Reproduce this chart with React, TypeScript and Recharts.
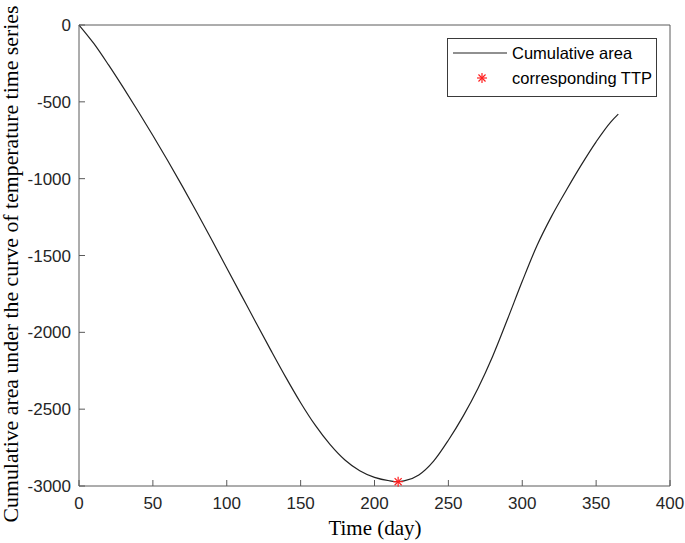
import React from 'react';
import { ComposedChart, Line, Scatter, XAxis, YAxis, Legend, Label } from 'recharts';

// day of year and cumulative area
const days = [0, 10, 20, 30, 40, 50, 60, 70, 80, 90, 100, 110, 120, 130, 140, 150, 160, 170, 180, 190, 200, 210, 216, 220, 230, 240, 250, 260, 270, 280, 290, 300, 310, 320, 330, 340, 350, 360, 365];
const cumulativeArea = [0, -120, -260, -408, -561, -719, -882, -1050, -1223, -1401, -1581, -1761, -1941, -2119, -2293, -2458, -2606, -2731, -2831, -2901, -2944, -2966, -2972, -2967, -2928, -2838, -2702, -2545, -2365, -2155, -1915, -1668, -1435, -1242, -1072, -910, -760, -630, -580];

const ttpDay = [216];
const ttpValue = [-2972];

const xTicks = [0, 50, 100, 150, 200, 250, 300, 350, 400];
const yTicks = [0, -500, -1000, -1500, -2000, -2500, -3000];

const curveData = days.map((d, i) => ({ day: d, area: cumulativeArea[i] }));
const ttpData = ttpDay.map((d, i) => ({ day: d, area: ttpValue[i] }));

const AXIS_COLOR = '#5a5a5a';
const TICK_FONT = { fontFamily: '"Liberation Sans", Arial, sans-serif', fontSize: 17, fill: '#262626' };

const Star = ({ cx, cy, r = 5, color = '#ff2020' }: any) => {
  const d = r * 0.7071;
  return (
    <g stroke={color} strokeWidth={1.2}>
      <line x1={cx - r} y1={cy} x2={cx + r} y2={cy} />
      <line x1={cx} y1={cy - r} x2={cx} y2={cy + r} />
      <line x1={cx - d} y1={cy - d} x2={cx + d} y2={cy + d} />
      <line x1={cx - d} y1={cy + d} x2={cx + d} y2={cy - d} />
    </g>
  );
};

const renderLegend = () => (
  <svg width={210} height={59} style={{ display: 'block' }}>
    <rect x={0.5} y={0.5} width={209} height={58} fill="#fff" stroke="#3a3a3a" strokeWidth={1} />
    <line x1={6} y1={15} x2={60} y2={15} stroke="#222" strokeWidth={1.2} />
    <text x={65} y={21} fontFamily='"Liberation Sans", Arial, sans-serif' fontSize={16.5} fill="#000">Cumulative area</text>
    <Star cx={35} cy={40} r={5} />
    <text x={65} y={46} fontFamily='"Liberation Sans", Arial, sans-serif' fontSize={16.5} fill="#000">corresponding TTP</text>
  </svg>
);

const YTitle = () => (
  <text
    x={18}
    y={264}
    transform="rotate(-90, 18, 264)"
    textAnchor="middle"
    fontFamily='"Liberation Serif", "Times New Roman", serif'
    fontSize={21.8}
    fill="#000"
  >
    Cumulative area under the curve of temperature time series
  </text>
);

const XTitle = () => (
  <text
    x={375}
    y={535}
    textAnchor="middle"
    fontFamily='"Liberation Serif", "Times New Roman", serif'
    fontSize={21}
    fill="#000"
  >
    Time (day)
  </text>
);

export default function App() {
  return (
    <div style={{ position: 'absolute', left: 0, top: 0, width: 685, height: 543, background: '#fff' }}>
      <ComposedChart width={685} height={543} margin={{ top: 24, right: 14, left: 0, bottom: 0 }}>
        <XAxis
          xAxisId="bottom"
          type="number"
          dataKey="day"
          domain={[0, 400]}
          ticks={xTicks}
          height={57}
          stroke={AXIS_COLOR}
          tickSize={-6}
          tickMargin={17}
          tick={TICK_FONT}
        >
          <Label content={<XTitle />} />
        </XAxis>
        <XAxis
          xAxisId="top"
          orientation="top"
          type="number"
          dataKey="day"
          domain={[0, 400]}
          ticks={xTicks}
          height={1}
          stroke={AXIS_COLOR}
          tickSize={-6}
          tick={false}
        />
        <YAxis
          yAxisId="left"
          type="number"
          domain={[-3000, 0]}
          ticks={yTicks}
          width={79}
          stroke={AXIS_COLOR}
          tickSize={-6}
          tickMargin={14}
          tick={TICK_FONT}
        >
          <Label content={<YTitle />} />
        </YAxis>
        <YAxis
          yAxisId="right"
          orientation="right"
          type="number"
          domain={[-3000, 0]}
          ticks={yTicks}
          width={1}
          stroke={AXIS_COLOR}
          tickSize={-6}
          tick={false}
        />
        <Legend
          layout="vertical"
          align="center"
          verticalAlign="middle"
          content={renderLegend}
          wrapperStyle={{ position: 'absolute', left: 447, top: 38, width: 210, height: 59 }}
        />
        {/* invisible copy so the top/right frame axes have a series */}
        <Line
          xAxisId="top"
          yAxisId="right"
          data={curveData}
          dataKey="area"
          stroke="none"
          dot={false}
          activeDot={false}
          legendType="none"
          isAnimationActive={false}
        />
        <Line
          xAxisId="bottom"
          yAxisId="left"
          data={curveData}
          dataKey="area"
          type="monotone"
          stroke="#222"
          strokeWidth={1.2}
          dot={false}
          activeDot={false}
          isAnimationActive={false}
        />
        <Scatter
          xAxisId="bottom"
          yAxisId="left"
          data={ttpData}
          dataKey="area"
          shape={(p: any) => <Star cx={p.cx} cy={p.cy} r={5} />}
          isAnimationActive={false}
        />
      </ComposedChart>
    </div>
  );
}
